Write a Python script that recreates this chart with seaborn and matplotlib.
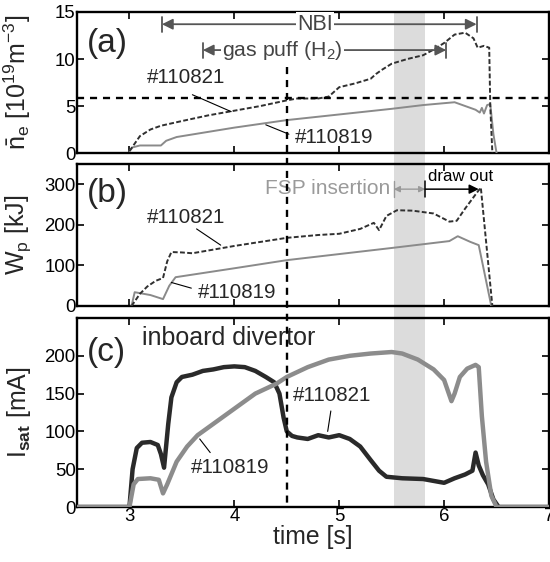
import matplotlib
matplotlib.use("Agg")
import matplotlib.pyplot as plt
import matplotlib.transforms as mtrans
from matplotlib.patches import Rectangle
from matplotlib.lines import Line2D
import seaborn as sns
import pandas as pd

# ---------------- data ----------------
a_t821 = [3.0, 3.05, 3.1, 3.2, 3.3, 3.5, 3.75, 4.0, 4.25, 4.5, 4.6, 4.8, 4.9, 5.0, 5.15, 5.3, 5.35, 5.4, 5.5, 5.65, 5.8, 5.9, 6.0, 6.1, 6.2, 6.28, 6.32, 6.38, 6.43, 6.44, 6.46]
a_v821 = [0.2, 1.0, 1.8, 2.5, 2.9, 3.4, 4.0, 4.5, 5.0, 5.6, 5.8, 5.8, 6.0, 7.0, 7.4, 7.9, 8.4, 8.8, 9.5, 10.0, 10.4, 11.0, 11.7, 12.6, 12.8, 12.2, 11.2, 11.4, 11.2, 5.0, 0.0]

a_t819 = [3.0, 3.03, 3.1, 3.3, 3.35, 3.45, 4.0, 4.5, 5.0, 5.5, 5.8, 6.1, 6.2, 6.3, 6.34, 6.36, 6.38, 6.41, 6.44, 6.47, 6.5]
a_v819 = [0.2, 0.6, 0.8, 0.8, 1.3, 1.7, 2.7, 3.5, 4.1, 4.7, 5.1, 5.4, 5.0, 4.6, 4.3, 4.8, 4.2, 5.1, 5.2, 2.0, 0.0]

b_t821 = [3.02, 3.1, 3.17, 3.25, 3.32, 3.36, 3.4, 3.5, 3.6, 4.0, 4.5, 4.8, 5.0, 5.2, 5.33, 5.38, 5.45, 5.55, 5.7, 5.9, 6.05, 6.12, 6.2, 6.3, 6.35, 6.46]
b_v821 = [0, 30, 48, 62, 69, 110, 133, 132, 130, 148, 168, 175, 178, 190, 205, 187, 222, 236, 235, 228, 208, 210, 240, 275, 292, 0]

b_t819 = [3.02, 3.05, 3.2, 3.32, 3.38, 3.44, 4.0, 4.5, 5.0, 5.5, 6.05, 6.13, 6.25, 6.33, 6.45]
b_v819 = [0, 34, 27, 17, 50, 71, 93, 113, 128, 143, 160, 172, 158, 150, 0]

c_t821 = [2.5, 3.0, 3.03, 3.07, 3.12, 3.2, 3.27, 3.3, 3.33, 3.37, 3.4, 3.45, 3.5, 3.6, 3.7, 3.8, 3.9, 4.0, 4.1, 4.2, 4.3, 4.38, 4.43, 4.47, 4.5, 4.55, 4.6, 4.7, 4.8, 4.9, 5.0, 5.1, 5.2, 5.3, 5.38, 5.45, 5.6, 5.8, 6.0, 6.1, 6.2, 6.27, 6.3, 6.33, 6.37, 6.42, 6.47, 6.52, 7.0]
c_v821 = [0, 0, 50, 78, 85, 86, 82, 70, 52, 110, 145, 165, 172, 175, 180, 182, 185, 186, 185, 180, 172, 165, 150, 118, 100, 94, 92, 90, 95, 92, 95, 90, 80, 62, 48, 40, 38, 37, 32, 38, 43, 48, 72, 55, 42, 30, 10, 0, 0]

c_t819 = [2.5, 3.0, 3.04, 3.08, 3.2, 3.28, 3.32, 3.36, 3.45, 3.55, 3.65, 3.8, 4.0, 4.2, 4.4, 4.5, 4.7, 4.9, 5.1, 5.3, 5.5, 5.6, 5.75, 5.9, 6.0, 6.07, 6.1, 6.15, 6.22, 6.3, 6.33, 6.36, 6.4, 6.45, 6.5, 7.0]
c_v819 = [0, 0, 30, 37, 38, 36, 18, 30, 60, 80, 95, 110, 130, 150, 163, 172, 185, 195, 200, 203, 205, 203, 195, 182, 168, 140, 150, 172, 183, 188, 185, 120, 60, 15, 0, 0]

x_ticks = [3, 4, 5, 6, 7]
a_yticks = [0, 5, 10, 15]
b_yticks = [0, 100, 200, 300]
c_yticks = [0, 50, 100, 150, 200]

# ---------------- style ----------------
sns.set_theme(style="ticks")
plt.rcParams["font.family"] = ["Liberation Sans", "DejaVu Sans"]
plt.rcParams["mathtext.fontset"] = "custom"
plt.rcParams["mathtext.rm"] = "Liberation Sans"
plt.rcParams["mathtext.it"] = "Liberation Sans:italic"
plt.rcParams["mathtext.bf"] = "Liberation Sans:bold"

DARK = "#303030"
GRAY = "#8a8a8a"
ARROW = "#555555"

fig = plt.figure(figsize=(5.5, 5.62), dpi=100)
L, R = 77 / 550, 549 / 550
def ypos(top, bot):
    return [L, 1 - bot / 562, R - L, (bot - top) / 562]
axa = fig.add_axes(ypos(12, 153))
axb = fig.add_axes(ypos(164, 306))
axc = fig.add_axes(ypos(318, 507))
axes = [axa, axb, axc]

def line(ax, t, v, color, ls, lw):
    df = pd.DataFrame({"t": t, "v": v})
    sns.lineplot(data=df, x="t", y="v", ax=ax, color=color, linestyle=ls,
                 linewidth=lw, sort=False, estimator=None, zorder=3)

line(axa, a_t819, a_v819, GRAY, "-", 1.4)
line(axa, a_t821, a_v821, DARK, (0, (2.5, 1.2)), 1.4)
line(axb, b_t819, b_v819, GRAY, "-", 1.4)
line(axb, b_t821, b_v821, DARK, (0, (2.5, 1.2)), 1.4)
line(axc, c_t821, c_v821, "#2a2a2a", "-", 3.2)
line(axc, c_t819, c_v819, "#8c8c8c", "-", 3.2)

for ax, yt, ylim in [(axa, a_yticks, 15), (axb, b_yticks, 350), (axc, c_yticks, 250)]:
    ax.set_facecolor("none")
    ax.set_xlim(2.5, 7)
    ax.set_ylim(0, ylim)
    ax.set_xticks(x_ticks)
    ax.set_yticks(yt)
    ax.tick_params(direction="in", length=5, width=1.2, top=True, right=True,
                   labelsize=13.4, pad=1, colors="black")
    for s in ax.spines.values():
        s.set_linewidth(1.7)
        s.set_color("black")
    ax.set_xlabel("")
    ax.yaxis.set_label_coords(-0.093, 0.5)
axa.tick_params(labelbottom=False)
axb.tick_params(labelbottom=False)
axc.set_xticklabels([str(x) for x in x_ticks])

axa.set_ylabel(r"$\bar{\mathrm{n}}_\mathrm{e}$ [10$^{19}$m$^{-3}$]", fontsize=18)
axb.set_ylabel(r"W$_\mathrm{p}$ [kJ]", fontsize=18)
axc.set_ylabel(r"I$_\mathbf{sat}$ [mA]", fontsize=18)
axc.set_xlabel("time [s]", fontsize=17.8, labelpad=0)

# gray band and vertical dashed line across all panels
bt = mtrans.blended_transform_factory(axa.transData, fig.transFigure)
fig.add_artist(Rectangle((5.52, 1 - 507 / 562), 0.3, (507 - 12) / 562, transform=bt,
                         facecolor="#dcdcdc", edgecolor="none", zorder=-5))
fig.add_artist(Line2D([4.5, 4.5], [1 - 67 / 562, 1 - 508 / 562], transform=bt,
                      color="black", linestyle=(0, (3, 2.5)), linewidth=1.7, zorder=5))

# horizontal dashed line in (a)
axa.axhline(5.8, color="black", linestyle=(0, (3, 2.5)), linewidth=1.7, zorder=4)

# panel labels
for ax, lab, yv in [(axa, "(a)", 11.6), (axb, "(b)", 278), (axc, "(c)", 205)]:
    ax.text(2.595, yv, lab, fontsize=24, va="center", ha="left")
axc.text(3.12, 224, "inboard divertor", fontsize=18, va="center", ha="left")

def span_arrow(ax, x0, x1, y, h, color, lw=1.3, ms=14, bars=(True, True), style="<|-|>"):
    ax.annotate("", xy=(x1, y), xytext=(x0, y),
                arrowprops=dict(arrowstyle=style, color=color, lw=lw,
                                mutation_scale=ms, shrinkA=0, shrinkB=0), zorder=6)
    if bars[0]:
        ax.plot([x0, x0], [y - h, y + h], color=color, lw=lw, zorder=6)
    if bars[1]:
        ax.plot([x1, x1], [y - h, y + h], color=color, lw=lw, zorder=6)

# NBI and gas puff arrows
span_arrow(axa, 3.31, 6.31, 13.7, 0.8, ARROW, ms=16)
axa.text(4.77, 13.7, "NBI", fontsize=15.5, color="#444444", ha="center", va="center",
         bbox=dict(facecolor="white", edgecolor="none", pad=1), zorder=7)
span_arrow(axa, 3.7, 6.02, 10.95, 0.8, ARROW, ms=16)
axa.text(4.46, 10.95, r"gas puff (H$_2$)", fontsize=15.3, color="#444444", ha="center", va="center",
         bbox=dict(facecolor="white", edgecolor="none", pad=1), zorder=7)

# FSP insertion / draw out
axb.text(5.49, 290, "FSP insertion", fontsize=15, color="#9a9a9a", ha="right", va="center")
span_arrow(axb, 5.52, 5.82, 288, 20, "#9a9a9a", lw=1.0, ms=9, bars=(True, False))
axb.text(6.16, 318, "draw out", fontsize=12.2, color="black", ha="center", va="center")
span_arrow(axb, 5.82, 6.33, 288, 20, "black", lw=1.1, ms=14, bars=(True, False), style="-|>")

# shot labels with pointer lines
axa.text(3.17, 8.0, "#110821", fontsize=14.8, ha="left", va="center")
axa.plot([3.6, 3.97], [6.2, 4.4], color="black", lw=0.8, zorder=6)
axa.text(4.58, 1.6, "#110819", fontsize=14.8, ha="left", va="center")
axa.plot([4.52, 4.3], [2.0, 3.0], color="black", lw=0.8, zorder=6)

axb.text(3.17, 219, "#110821", fontsize=14.8, ha="left", va="center")
axb.plot([3.64, 3.87], [190, 150], color="black", lw=0.8, zorder=6)
axb.text(3.65, 34, "#110819", fontsize=14.8, ha="left", va="center")
axb.plot([3.59, 3.4], [44, 58], color="black", lw=0.8, zorder=6)

axc.text(4.56, 148, "#110821", fontsize=14.8, ha="left", va="center")
axc.plot([4.92, 4.89], [127, 100], color="black", lw=0.8, zorder=6)
axc.text(3.59, 52, "#110819", fontsize=14.8, ha="left", va="center")
axc.plot([3.77, 3.67], [72, 90], color="black", lw=0.8, zorder=6)

fig.savefig("out.png", dpi=100)
